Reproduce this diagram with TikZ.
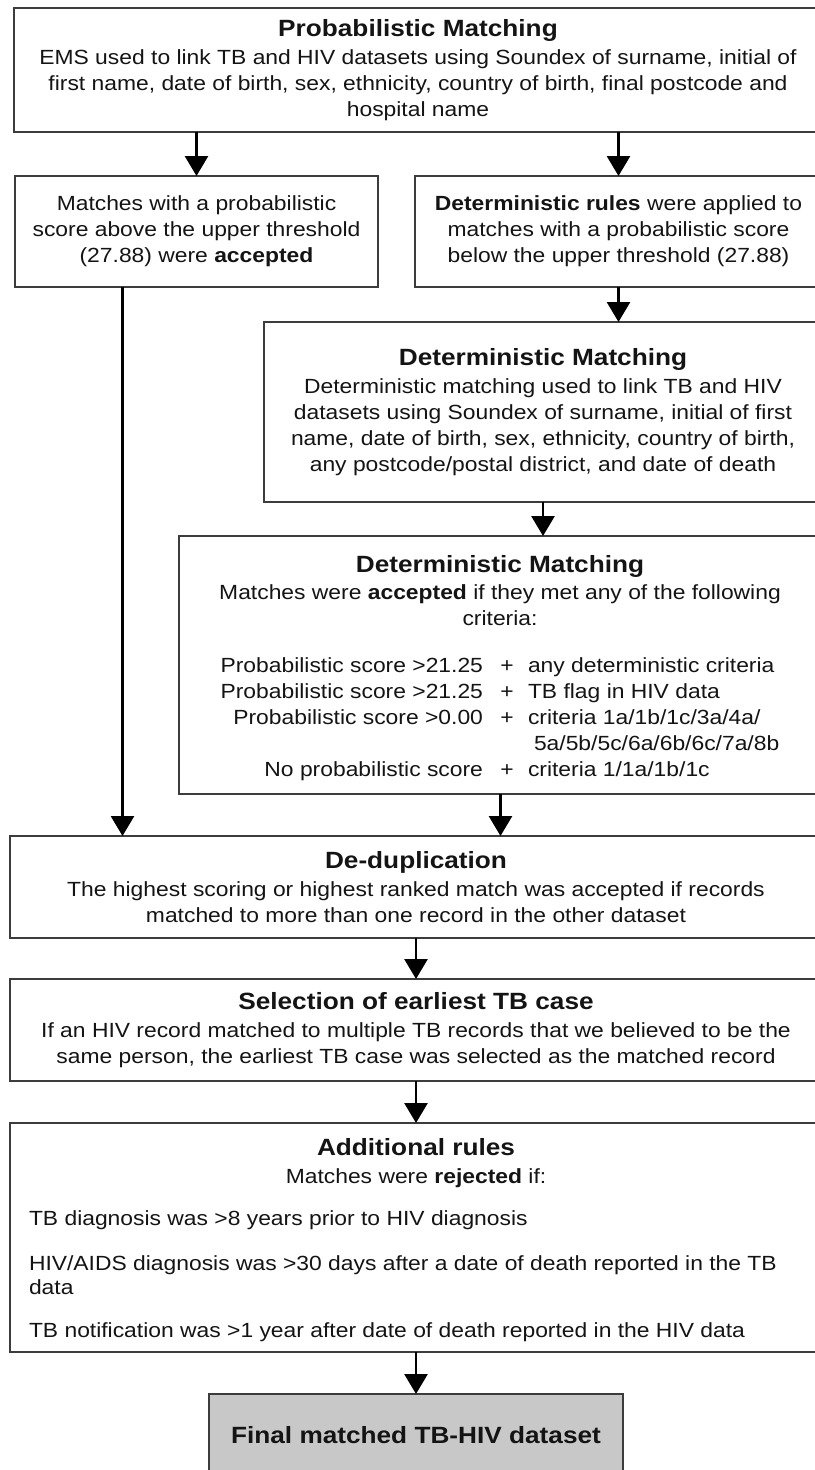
\documentclass[tikz,border=0pt]{standalone}
\usepackage{fontspec}
\setmainfont{Liberation Sans}[FakeStretch=1.115]
\usetikzlibrary{arrows.meta}
\newcommand{\bodysize}{\fontsize{20.5}{26}\selectfont}
\newcommand{\headsize}{\fontsize{23.5}{26}\selectfont\bfseries}
\definecolor{edge}{RGB}{60,60,60}
\definecolor{ink}{RGB}{20,20,20}
\definecolor{finalfill}{RGB}{200,200,200}

\begin{document}
\begin{tikzpicture}[x=1pt,y=-1pt,
  box/.style={draw=edge, line width=2.6pt, fill=white, rectangle, anchor=north west,
    inner sep=0pt, outer sep=0pt, align=center, font=\bodysize, text=ink},
  txt/.style={inner sep=0pt, outer sep=0pt, font=\bodysize, text=ink},
  arr/.style={draw=black, line width=2.8pt, -{Triangle[length=20pt,width=23pt]}}]
\useasboundingbox (0,0) rectangle (814,1470);

% ---- boxes ----
\node[box, minimum width=808pt, minimum height=124pt] (pm) at (14,8)
  {{\headsize Probabilistic Matching}\\[2pt]
   EMS used to link TB and HIV datasets using Soundex of surname, initial of\\
   first name, date of birth, sex, ethnicity, country of birth, final postcode and\\
   hospital name};

\node[box, minimum width=363pt, minimum height=111pt] (acc) at (15,176)
  {Matches with a probabilistic\\
   score above the upper threshold\\
   (27.88) were \textbf{accepted}};

\node[box, minimum width=407pt, minimum height=111pt] (det) at (415,176)
  {\textbf{Deterministic rules} were applied to\\
   matches with a probabilistic score\\
   below the upper threshold (27.88)};

\node[box, minimum width=558pt, minimum height=180pt] (dm1) at (264,322)
  {{\headsize Deterministic Matching}\\[2pt]
   Deterministic matching used to link TB and HIV\\
   datasets using Soundex of surname, initial of first\\
   name, date of birth, sex, ethnicity, country of birth,\\
   any postcode/postal district, and date of death};

\node[box, minimum width=643pt, minimum height=258pt] (dm2) at (179,536) {};

\node[box, minimum width=812pt, minimum height=102pt] (dd) at (10,836)
  {{\headsize De-duplication}\\[2pt]
   The highest scoring or highest ranked match was accepted if records\\
   matched to more than one record in the other dataset};

\node[box, minimum width=812pt, minimum height=102pt] (sel) at (10,979)
  {{\headsize Selection of earliest TB case}\\[2pt]
   If an HIV record matched to multiple TB records that we believed to be the\\
   same person, the earliest TB case was selected as the matched record};

\node[box, minimum width=812pt, minimum height=229pt] (add) at (10,1123) {};

\node[box, fill=finalfill, minimum width=414pt, minimum height=82pt] (fin) at (209,1394)
  {\headsize Final matched TB-HIV dataset};

% ---- second deterministic matching stage: heading and criteria table ----
\node[txt, anchor=base] (dm2head) at (500,572) {\headsize Deterministic Matching};
\node[txt, anchor=base] (dm2l1) at (500,599) {Matches were \textbf{accepted} if they met any of the following};
\node[txt, anchor=base] (dm2l2) at (500,625) {criteria:};

\node[txt, anchor=base east] (ca) at (483,672) {Probabilistic score >21.25};
\node[txt, anchor=base]      (pa) at (507,672) {+};
\node[txt, anchor=base west] (ra) at (528,672) {any deterministic criteria};

\node[txt, anchor=base east] (cb) at (483,698) {Probabilistic score >21.25};
\node[txt, anchor=base]      (pb) at (507,698) {+};
\node[txt, anchor=base west] (rb) at (528,698) {TB flag in HIV data};

\node[txt, anchor=base east] (cc) at (483,724) {Probabilistic score >0.00};
\node[txt, anchor=base]      (pc) at (507,724) {+};
\node[txt, anchor=base west] (rc) at (528,724) {criteria 1a/1b/1c/3a/4a/};
\node[txt, anchor=base west] (rc2) at (534,750) {5a/5b/5c/6a/6b/6c/7a/8b};

\node[txt, anchor=base east] (cd) at (483,776) {No probabilistic score};
\node[txt, anchor=base]      (pd) at (507,776) {+};
\node[txt, anchor=base west] (rd) at (528,776) {criteria 1/1a/1b/1c};

% ---- additional rejection rules ----
\node[txt, anchor=base] (addhead) at (416,1155) {\headsize Additional rules};
\node[txt, anchor=base] (addsub) at (416,1183) {Matches were \textbf{rejected} if:};
\node[txt, anchor=base west] (rule1) at (29,1225) {TB diagnosis was >8 years prior to HIV diagnosis};
\node[txt, anchor=base west] (rule2) at (29,1270) {HIV/AIDS diagnosis was >30 days after a date of death reported in the TB};
\node[txt, anchor=base west] (rule2b) at (29,1294) {data};
\node[txt, anchor=base west] (rule3) at (29,1337) {TB notification was >1 year after date of death reported in the HIV data};

% ---- connectors ----
\draw[arr] (pm.south -| acc.north) -- (acc.north);
\draw[arr] (pm.south -| det.north) -- (det.north);
\draw[arr] ([xshift=-74pt]acc.south) -- ([xshift=-74pt]acc.south |- dd.north);
\draw[arr] (det.south) -- (det.south |- dm1.north);
\draw[arr] (dm1.south) -- (dm1.south |- dm2.north);
\draw[arr] (dm2.south) -- (dm2.south |- dd.north);
\draw[arr] (dd.south) -- (sel.north);
\draw[arr] (sel.south) -- (add.north);
\draw[arr] (add.south -| fin.north) -- (fin.north);
\end{tikzpicture}
\end{document}
